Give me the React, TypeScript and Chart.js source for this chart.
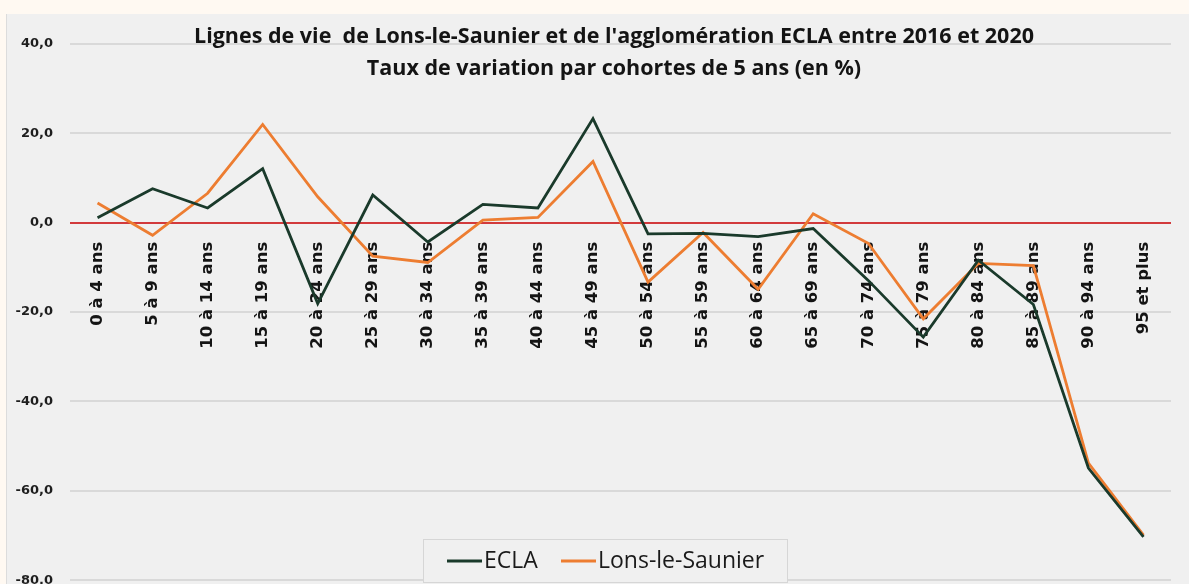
import React, { useEffect, useRef } from "react";
import { Chart, registerables } from "chart.js";

Chart.register(...registerables);

const categories = [
  "0 à 4 ans", "5 à 9 ans", "10 à 14 ans", "15 à 19 ans", "20 à 24 ans",
  "25 à 29 ans", "30 à 34 ans", "35 à 39 ans", "40 à 44 ans", "45 à 49 ans",
  "50 à 54 ans", "55 à 59 ans", "60 à 64 ans", "65 à 69 ans", "70 à 74 ans",
  "75 à 79 ans", "80 à 84 ans", "85 à 89 ans", "90 à 94 ans", "95 et plus",
];
const eclaValues = [
  1.1, 7.6, 3.3, 12.1, -18.1, 6.2, -4.3, 4.1, 3.3, 23.3,
  -2.5, -2.4, -3.1, -1.3, -12.9, -25.6, -8.4, -18.3, -54.9, -70.3,
];
const lonsValues = [
  4.4, -2.8, 6.6, 22.0, 5.8, -7.5, -8.9, 0.6, 1.2, 13.7,
  -13.3, -2.2, -14.9, 2.0, -4.6, -21.5, -9.1, -9.6, -53.8, -69.9,
];
const seriesNames = ["ECLA", "Lons-le-Saunier"];
const yMin = -80;
const yMax = 40;
const yStep = 20;
const titleLines = [
  "Lignes de vie  de Lons-le-Saunier et de l'agglomération ECLA entre 2016 et 2020",
  "Taux de variation par cohortes de 5 ans (en %)",
];

const ECLA_COLOR = "#1a3a2b";
const LONS_COLOR = "#ed7d31";
const ZERO_COLOR = "#d23a3c";
const GRID_COLOR = "#d9d9d9";
const TITLE_FONT = "'Open Sans', Lato, sans-serif";
const TICK_FONT = "'DejaVu Sans', sans-serif";

const titlePlugin = {
  id: "customTitle",
  afterDraw(chart: any) {
    const ctx = chart.ctx;
    ctx.save();
    ctx.fillStyle = "#141414";
    ctx.font = `bold 21.5px ${TITLE_FONT}`;
    ctx.textAlign = "center";
    ctx.textBaseline = "alphabetic";
    ctx.fillText(titleLines[0], 614, 42.5);
    ctx.fillText(titleLines[1], 614, 75);
    ctx.restore();
  },
};

const legendPlugin = {
  id: "customLegend",
  afterDraw(chart: any) {
    const ctx = chart.ctx;
    const ds = chart.data.datasets;
    ctx.save();
    const bx = 423, by = 539, bw = 364, bh = 43;
    ctx.fillStyle = "#f0f0f0";
    ctx.fillRect(bx, by, bw, bh);
    ctx.strokeStyle = "#d6d6d6";
    ctx.lineWidth = 1;
    ctx.strokeRect(bx + 0.5, by + 0.5, bw, bh);
    ctx.font = `23px ${TITLE_FONT}`;
    ctx.textBaseline = "middle";
    ctx.textAlign = "left";
    const items = [
      { x: 447, label: ds[0].label, color: ds[0].borderColor },
      { x: 561, label: ds[1].label, color: ds[1].borderColor },
    ];
    const cy = 561;
    for (const it of items) {
      ctx.strokeStyle = it.color;
      ctx.lineWidth = 3;
      ctx.beginPath();
      ctx.moveTo(it.x, cy);
      ctx.lineTo(it.x + 35, cy);
      ctx.stroke();
      ctx.fillStyle = "#1a1a1a";
      ctx.fillText(it.label, it.x + 37, cy);
    }
    ctx.restore();
  },
};

export default function App() {
  const canvasRef = useRef<HTMLCanvasElement | null>(null);

  useEffect(() => {
    document.body.style.margin = "0";
    document.body.style.overflow = "hidden";
    const canvas = canvasRef.current;
    if (!canvas) return;
    const chart = new Chart(canvas, {
      type: "line",
      data: {
        labels: categories,
        datasets: [
          {
            label: seriesNames[0],
            data: eclaValues,
            borderColor: ECLA_COLOR,
            backgroundColor: ECLA_COLOR,
            borderWidth: 2.8,
            pointRadius: 0,
            tension: 0,
            borderJoinStyle: "miter",
          },
          {
            label: seriesNames[1],
            data: lonsValues,
            borderColor: LONS_COLOR,
            backgroundColor: LONS_COLOR,
            borderWidth: 2.8,
            pointRadius: 0,
            tension: 0,
            borderJoinStyle: "miter",
          },
        ],
      },
      options: {
        responsive: false,
        animation: false,
        devicePixelRatio: 1,
        layout: { padding: { left: 0, right: 18, top: 44, bottom: 16.5 } },
        plugins: {
          legend: { display: false },
          title: { display: false },
          tooltip: { enabled: false },
        },
        scales: {
          x: {
            type: "category",
            position: { y: 0 } as any,
            offset: true,
            grid: { display: false, drawTicks: false },
            border: { display: false },
            ticks: {
              autoSkip: false,
              minRotation: 90,
              maxRotation: 90,
              padding: 19,
              color: "#141414",
              font: { family: TICK_FONT, size: 16.5, weight: "bold" },
            },
          },
          y: {
            min: yMin,
            max: yMax,
            afterFit: (scale: any) => {
              scale.width = 70;
            },
            grid: {
              drawTicks: false,
              lineWidth: 2,
              color: (ctx: any) => (ctx.tick && ctx.tick.value === 0 ? ZERO_COLOR : GRID_COLOR),
            },
            border: { display: false },
            ticks: {
              stepSize: yStep,
              padding: 17,
              color: "#1e1e1e",
              font: { family: TICK_FONT, size: 13, weight: "bold" },
              callback: (v: any) => Number(v).toFixed(1).replace(".", ","),
            },
          },
        },
      },
      plugins: [titlePlugin, legendPlugin],
    });
    return () => chart.destroy();
  }, []);

  return (
    <div
      style={{
        position: "relative",
        width: 1189,
        height: 584,
        overflow: "hidden",
        background: "#fff9f2",
      }}
    >
      <div
        style={{
          position: "absolute",
          left: 6,
          top: 14,
          width: 1183,
          height: 570,
          background: "#f0f0f0",
          borderLeft: "1px solid #dcdcdc",
        }}
      />
      <canvas
        ref={canvasRef}
        width={1189}
        height={605}
        style={{ position: "absolute", left: 0, top: 0, display: "block" }}
      />
    </div>
  );
}
